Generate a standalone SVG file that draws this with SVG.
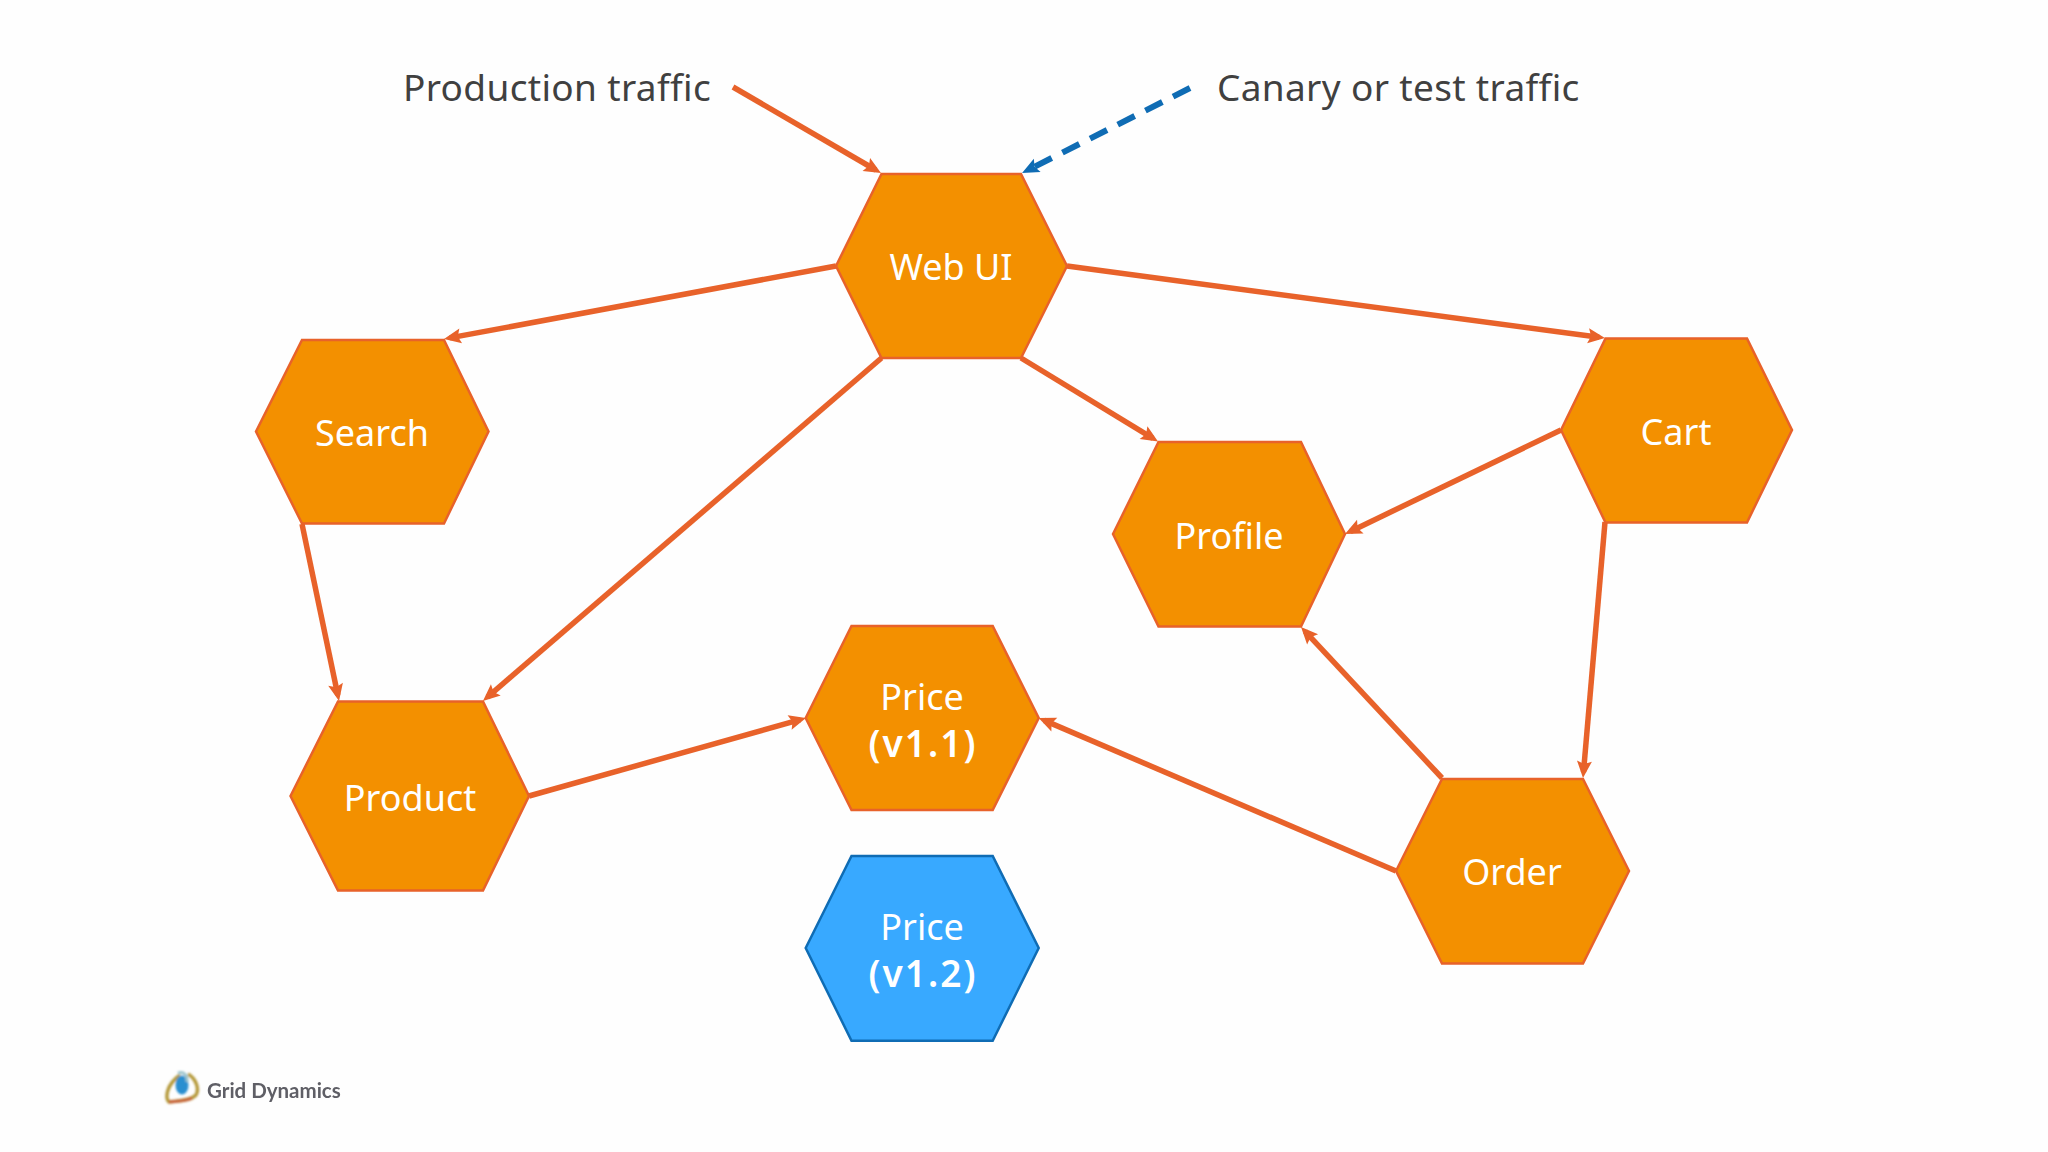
<svg xmlns="http://www.w3.org/2000/svg" width="2048" height="1152" viewBox="0 0 2048 1152">
<style>
.hex{stroke-width:2.5;stroke-linejoin:miter}
.o{fill:#f39000;stroke:#e8622a}
.b{fill:#38a9ff;stroke:#0f6cb4}
.t{font-family:"Noto Sans","DejaVu Sans",sans-serif;font-size:36px;fill:#fff;text-anchor:middle}
.v{font-weight:600;letter-spacing:2px;font-size:37px}
.l{font-family:"Noto Sans","DejaVu Sans",sans-serif;font-size:37px;fill:#404040;letter-spacing:.34px}
.c{fill:none;stroke:#e8622a;stroke-width:5.5}
.d{fill:none;stroke:#0f6cb4;stroke-width:6;stroke-dasharray:19 12}
</style>
<defs>
<marker id="ao" markerUnits="userSpaceOnUse" markerWidth="24" markerHeight="24" refX="11" refY="8" orient="auto" overflow="visible"><path d="M0,0.5 L17,8 L0,15.5 L3,8 z" fill="#e8622a"/></marker>
<marker id="ab" markerUnits="userSpaceOnUse" markerWidth="24" markerHeight="24" refX="11" refY="8" orient="auto" overflow="visible"><path d="M0,0.5 L17,8 L0,15.5 L3,8 z" fill="#0f6cb4"/></marker>
<filter id="soft" x="-20%" y="-20%" width="140%" height="140%"><feGaussianBlur stdDeviation="1"/></filter>
<filter id="softer" x="-5%" y="-20%" width="110%" height="140%"><feGaussianBlur stdDeviation="0.6"/></filter>
</defs>
<rect width="2048" height="1152" fill="#fefefe"/>
<g id="connectors">
<path class="c" marker-end="url(#ao)" d="M733,87 L875.8,170"/>
<path class="d" marker-end="url(#ab)" d="M1190,88 L1027.4,170.3"/>
<path class="c" marker-end="url(#ao)" d="M836,266 L449.9,337.9"/>
<path class="c" marker-end="url(#ao)" d="M1067,266 L1599,337.2"/>
<path class="c" marker-end="url(#ao)" d="M881.5,358 L487.5,697.1"/>
<path class="c" marker-end="url(#ao)" d="M1021,358 L1152.9,438.4"/>
<path class="c" marker-end="url(#ao)" d="M302,524 L337.8,695.1"/>
<path class="c" marker-end="url(#ao)" d="M1561,430 L1350.4,531.4"/>
<path class="c" marker-end="url(#ao)" d="M1605,522 L1583.5,772"/>
<path class="c" marker-end="url(#ao)" d="M529,796 L800.2,719.6"/>
<path class="c" marker-end="url(#ao)" d="M1396,871 L1044.2,720.4"/>
<path class="c" marker-end="url(#ao)" d="M1442,778 L1305.1,631.4"/>
</g>
<g id="label-production"><text class="l" x="403" y="101">Production traffic</text></g>
<g id="label-canary"><text class="l" x="1217" y="101">Canary or test traffic</text></g>
<g id="web-ui"><polygon class="hex o" points="836,266 881.5,174 1021,174 1067,266 1021,358 881.5,358"/><text class="t" x="951" y="280">Web UI</text></g>
<g id="search"><polygon class="hex o" points="256,431.5 302,340 444,340 488.5,431.5 444,523.5 302,523.5"/><text class="t" x="372" y="446">Search</text></g>
<g id="cart"><polygon class="hex o" points="1561,430 1605.5,338.5 1747,338.5 1792,430 1747,522.5 1605.5,522.5"/><text class="t" x="1676" y="445">Cart</text></g>
<g id="profile"><polygon class="hex o" points="1113,534 1158.5,442 1301,442 1345,534 1301,626.5 1158.5,626.5"/><text class="t" x="1229" y="549">Profile</text></g>
<g id="product"><polygon class="hex o" points="290.5,796 338,701.5 483,701.5 529,796 483,890.5 338,890.5"/><text class="t" x="410" y="811">Product</text></g>
<g id="price-v11"><polygon class="hex o" points="805.7,718 851.5,626 992.7,626 1038.7,718 992.7,810 851.5,810"/><text class="t" x="922" y="710">Price</text><text class="t v" x="923" y="757">(v1.1)</text></g>
<g id="price-v12"><polygon class="hex b" points="805.7,948 851.5,856 992.7,856 1038.7,948 992.7,1040.7 851.5,1040.7"/><text class="t" x="922" y="940">Price</text><text class="t v" x="923" y="987">(v1.2)</text></g>
<g id="order"><polygon class="hex o" points="1396,871 1442,779 1583,779 1629,871 1583,963.5 1442,963.5"/><text class="t" x="1512" y="885">Order</text></g>
<g id="logo">
<g filter="url(#soft)">
<path d="M180,1075 C166,1085 165,1098 169,1102 C178,1101 190,1101 196,1095 C200,1088 195,1078 188,1074" fill="none" stroke="#b59a3a" stroke-width="3.5"/>
<path d="M169,1102 C178,1101 186,1101 192,1098" fill="none" stroke="#c8603a" stroke-width="3"/>
<ellipse cx="182" cy="1085" rx="6.5" ry="9.5" fill="#2a8fd0"/>
<path d="M178,1073 C184,1071 188,1076 187,1082" fill="none" stroke="#9cc4cc" stroke-width="3"/>
</g>
<text x="207" y="1098" font-family="Lato,'Liberation Sans',sans-serif" font-size="20.5" font-weight="700" fill="#5f5f66" filter="url(#softer)">Grid Dynamics</text>
</g>
</svg>
